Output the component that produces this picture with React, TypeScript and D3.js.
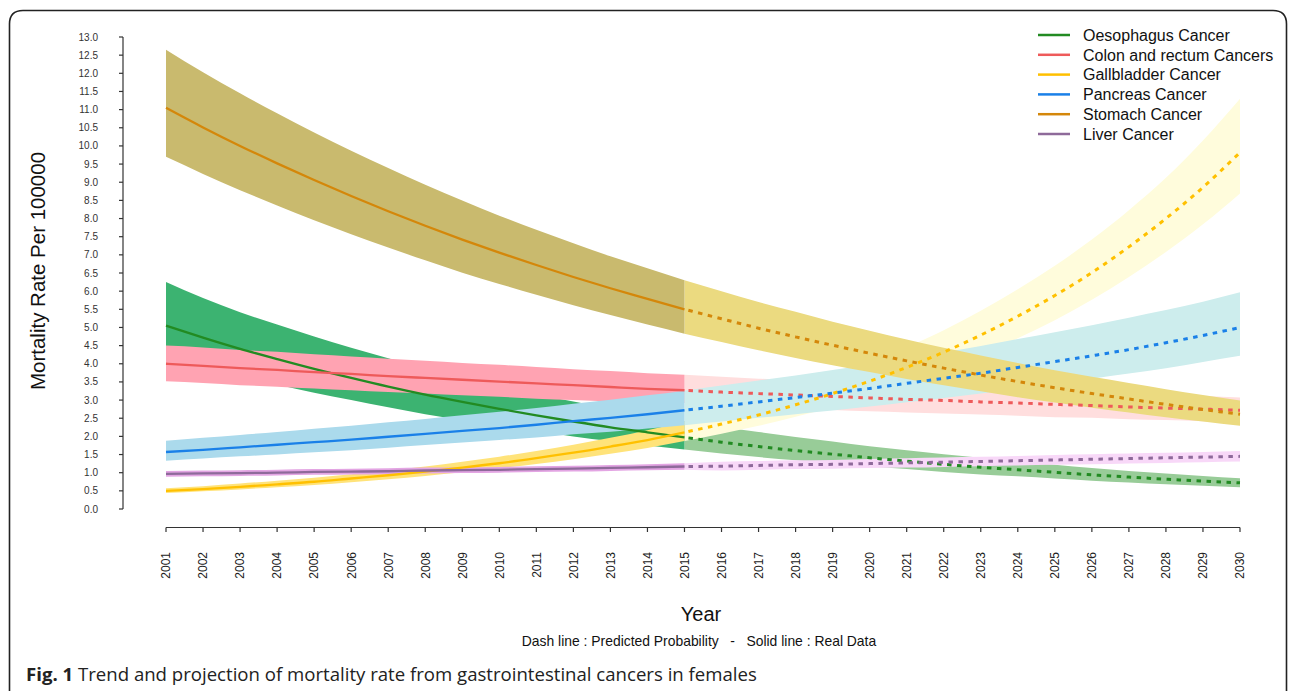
import React from 'react';
import * as d3 from 'd3';

const years = [2001, 2002, 2003, 2004, 2005, 2006, 2007, 2008, 2009, 2010, 2011, 2012, 2013, 2014, 2015,
  2016, 2017, 2018, 2019, 2020, 2021, 2022, 2023, 2024, 2025, 2026, 2027, 2028, 2029, 2030];

const yTicks = [0, 0.5, 1, 1.5, 2, 2.5, 3, 3.5, 4, 4.5, 5, 5.5, 6, 6.5, 7, 7.5, 8, 8.5, 9, 9.5, 10, 10.5, 11, 11.5, 12, 12.5, 13];

const oesophagusMid = [5.05, 4.72, 4.41, 4.13, 3.86, 3.61, 3.37, 3.15, 2.95, 2.76, 2.58, 2.41, 2.25, 2.11, 1.97,
  1.84, 1.72, 1.61, 1.51, 1.41, 1.32, 1.23, 1.15, 1.08, 1.01, 0.94, 0.88, 0.82, 0.77, 0.72];
const oesophagusUp = [6.25, 5.81, 5.42, 5.08, 4.75, 4.44, 4.15, 3.87, 3.63, 3.39, 3.17, 2.96, 2.77, 2.60, 2.42,
  2.26, 2.12, 1.98, 1.86, 1.73, 1.62, 1.51, 1.41, 1.31, 1.22, 1.13, 1.05, 0.98, 0.91, 0.85];
const oesophagusLow = [4.19, 3.92, 3.66, 3.43, 3.20, 3.00, 2.80, 2.61, 2.45, 2.29, 2.14, 2.00, 1.87, 1.75, 1.64,
  1.53, 1.43, 1.34, 1.25, 1.17, 1.10, 1.02, 0.95, 0.90, 0.84, 0.78, 0.73, 0.68, 0.64, 0.60];

const colonMid = [4.00, 3.94, 3.88, 3.83, 3.77, 3.72, 3.66, 3.61, 3.56, 3.51, 3.46, 3.41, 3.36, 3.31, 3.27,
  3.22, 3.18, 3.14, 3.10, 3.06, 3.02, 2.99, 2.95, 2.92, 2.88, 2.85, 2.81, 2.78, 2.75, 2.72];
const colonUp = [4.50, 4.45, 4.38, 4.33, 4.26, 4.20, 4.14, 4.08, 4.02, 3.97, 3.91, 3.85, 3.80, 3.74, 3.70,
  3.64, 3.59, 3.55, 3.50, 3.46, 3.41, 3.38, 3.33, 3.30, 3.25, 3.22, 3.18, 3.14, 3.11, 3.07];
const colonLow = [3.52, 3.47, 3.41, 3.37, 3.32, 3.27, 3.22, 3.18, 3.13, 3.09, 3.04, 3.00, 2.96, 2.91, 2.92,
  2.83, 2.80, 2.76, 2.73, 2.69, 2.66, 2.63, 2.60, 2.57, 2.53, 2.51, 2.47, 2.45, 2.42, 2.39];

const gallbladderMid = [0.50, 0.55, 0.61, 0.68, 0.75, 0.84, 0.93, 1.03, 1.14, 1.26, 1.40, 1.55, 1.72, 1.90, 2.11,
  2.34, 2.59, 2.87, 3.18, 3.52, 3.90, 4.32, 4.79, 5.31, 5.88, 6.51, 7.22, 8.00, 8.86, 9.82];
const gallbladderUp = [0.57, 0.63, 0.70, 0.78, 0.86, 0.96, 1.06, 1.17, 1.30, 1.44, 1.60, 1.77, 1.96, 2.17, 2.41,
  2.67, 2.95, 3.27, 3.63, 4.01, 4.45, 4.92, 5.46, 6.05, 6.70, 7.42, 8.23, 9.12, 10.15, 11.30];
const gallbladderLow = [0.44, 0.49, 0.54, 0.60, 0.66, 0.74, 0.82, 0.91, 1.01, 1.12, 1.24, 1.37, 1.52, 1.68, 1.87,
  2.07, 2.29, 2.54, 2.81, 3.12, 3.45, 3.82, 4.24, 4.70, 5.20, 5.76, 6.39, 7.08, 7.84, 8.69];

const pancreasMid = [1.57, 1.63, 1.70, 1.77, 1.84, 1.91, 1.99, 2.07, 2.15, 2.23, 2.32, 2.42, 2.51, 2.61, 2.72,
  2.83, 2.95, 3.07, 3.19, 3.32, 3.46, 3.60, 3.74, 3.90, 4.06, 4.22, 4.39, 4.58, 4.78, 5.00];
const pancreasUp = [1.88, 1.96, 2.04, 2.12, 2.21, 2.29, 2.39, 2.48, 2.58, 2.68, 2.78, 2.90, 3.01, 3.13, 3.26,
  3.40, 3.54, 3.68, 3.83, 3.98, 4.15, 4.32, 4.49, 4.68, 4.87, 5.06, 5.27, 5.48, 5.71, 5.97];
const pancreasLow = [1.33, 1.39, 1.45, 1.50, 1.56, 1.62, 1.69, 1.76, 1.83, 1.90, 1.97, 2.06, 2.13, 2.22, 2.31,
  2.41, 2.51, 2.61, 2.71, 2.82, 2.94, 3.06, 3.18, 3.32, 3.45, 3.59, 3.73, 3.88, 4.05, 4.22];

const stomachMid = [11.05, 10.51, 10.00, 9.52, 9.06, 8.62, 8.20, 7.80, 7.42, 7.06, 6.72, 6.39, 6.08, 5.79, 5.50,
  5.24, 4.98, 4.74, 4.51, 4.29, 4.08, 3.88, 3.69, 3.51, 3.34, 3.18, 3.03, 2.88, 2.74, 2.61];
const stomachUp = [12.65, 12.03, 11.45, 10.90, 10.37, 9.87, 9.39, 8.93, 8.50, 8.08, 7.69, 7.32, 6.96, 6.63, 6.30,
  6.00, 5.70, 5.43, 5.16, 4.91, 4.67, 4.44, 4.23, 4.02, 3.82, 3.64, 3.47, 3.30, 3.14, 2.99];
const stomachLow = [9.70, 9.23, 8.78, 8.36, 7.95, 7.57, 7.20, 6.85, 6.51, 6.20, 5.90, 5.61, 5.34, 5.08, 4.83,
  4.60, 4.37, 4.16, 3.96, 3.77, 3.58, 3.41, 3.24, 3.08, 2.93, 2.79, 2.66, 2.53, 2.41, 2.29];

const liverMid = [0.97, 0.98, 0.99, 1.00, 1.02, 1.03, 1.04, 1.06, 1.07, 1.08, 1.10, 1.11, 1.13, 1.15, 1.17,
  1.18, 1.20, 1.22, 1.23, 1.25, 1.27, 1.29, 1.31, 1.33, 1.35, 1.37, 1.39, 1.41, 1.43, 1.45];
const liverUp = [1.05, 1.06, 1.07, 1.08, 1.10, 1.11, 1.12, 1.14, 1.15, 1.16, 1.18, 1.19, 1.21, 1.23, 1.26,
  1.30, 1.32, 1.34, 1.35, 1.38, 1.40, 1.42, 1.44, 1.46, 1.49, 1.51, 1.53, 1.55, 1.57, 1.60];
const liverLow = [0.89, 0.90, 0.91, 0.92, 0.94, 0.95, 0.96, 0.98, 0.99, 1.00, 1.02, 1.03, 1.05, 1.07, 1.08,
  1.06, 1.08, 1.10, 1.11, 1.13, 1.14, 1.16, 1.18, 1.20, 1.22, 1.23, 1.25, 1.27, 1.29, 1.31];

const seriesNames = ['Oesophagus Cancer', 'Colon and rectum Cancers', 'Gallbladder Cancer', 'Pancreas Cancer', 'Stomach Cancer', 'Liver Cancer'];
const lineColors = ['#228B22', '#EE5A5A', '#FFC000', '#1A80E8', '#D4870A', '#8E6A9A'];
const bandRealColors = ['#3CB371', '#FFA3B2', '#FFE37A', '#ABDAEC', '#C9BA6E', '#E3A5E3'];
const bandPredColors = ['#98CC98', '#FFDEDE', '#FFFCDC', '#CDEDED', '#EBDA80', '#F8D8F8'];

const mids = [oesophagusMid, colonMid, gallbladderMid, pancreasMid, stomachMid, liverMid];
const ups = [oesophagusUp, colonUp, gallbladderUp, pancreasUp, stomachUp, liverUp];
const lows = [oesophagusLow, colonLow, gallbladderLow, pancreasLow, stomachLow, liverLow];

const splitYear = 2015;

export default function App() {
  const W = 1295, H = 691;
  const x = d3.scaleLinear().domain([2001, 2030]).range([166, 1240]);
  const y = d3.scaleLinear().domain([0, 13]).range([509, 37]);

  const series = seriesNames.map((name, i) => ({
    name,
    color: lineColors[i],
    real: bandRealColors[i],
    pred: bandPredColors[i],
    pts: years.map((yr, j) => ({ yr, m: mids[i][j], u: ups[i][j], l: lows[i][j] })),
  }));

  const area = d3.area<any>()
    .x(d => x(d.yr))
    .y0(d => y(d.l))
    .y1(d => y(d.u))
    .curve(d3.curveMonotoneX);
  const line = d3.line<any>()
    .x(d => x(d.yr))
    .y(d => y(d.m))
    .curve(d3.curveMonotoneX);

  const arial = 'Arial, "Liberation Sans", Helvetica, sans-serif';

  return (
    <svg width={W} height={H} style={{ position: 'absolute', left: 0, top: 0, background: '#fff' }}>
      <rect x={0} y={0} width={W} height={H} fill="#fff" />
      <path d={`M9.5,${H} L9.5,24 Q9.5,10.5 23,10.5 L1273,10.5 Q1286.5,10.5 1286.5,24 L1286.5,${H}`} fill="none" stroke="#222" strokeWidth={1.6} />

      {/* bands */}
      {series.map(s => {
        const real = s.pts.filter(p => p.yr <= splitYear);
        const pred = s.pts.filter(p => p.yr >= splitYear);
        return (
          <g key={'b' + s.name}>
            <path d={area(pred) || ''} fill={s.pred} />
            <path d={area(real) || ''} fill={s.real} />
          </g>
        );
      })}

      {/* lines */}
      {series.map(s => {
        const real = s.pts.filter(p => p.yr <= splitYear);
        const pred = s.pts.filter(p => p.yr >= splitYear);
        return (
          <g key={'l' + s.name}>
            <path d={line(real) || ''} fill="none" stroke={s.color} strokeWidth={2.3} />
            <path d={line(pred) || ''} fill="none" stroke={s.color} strokeWidth={3} strokeDasharray="4.5 5.5" strokeDashoffset={-4} />
          </g>
        );
      })}

      {/* y axis */}
      <line x1={123} x2={123} y1={y(13)} y2={y(0)} stroke="#333" strokeWidth={1.2} />
      {yTicks.map(t => (
        <g key={'yt' + t}>
          <line x1={119} x2={123} y1={y(t)} y2={y(t)} stroke="#333" strokeWidth={1.2} />
          <text x={98} y={y(t)} dy="0.35em" textAnchor="end" fontFamily={arial} fontSize={10} fill="#333">{t.toFixed(1)}</text>
        </g>
      ))}
      <text transform={`translate(45,${271}) rotate(-90)`} textAnchor="middle" fontFamily={arial} fontSize={20.5} fill="#111">Mortality Rate Per 100000</text>

      {/* x axis */}
      <line x1={x(2001)} x2={x(2030)} y1={527.5} y2={527.5} stroke="#333" strokeWidth={1.2} />
      {years.map(yr => (
        <g key={'xt' + yr}>
          <line x1={x(yr)} x2={x(yr)} y1={527.5} y2={532} stroke="#333" strokeWidth={1.2} />
          <text transform={`translate(${x(yr)},552) rotate(-90)`} dy="0.36em" textAnchor="end" fontFamily={arial} fontSize={12} fill="#222">{yr}</text>
        </g>
      ))}
      <text x={701} y={621} textAnchor="middle" fontFamily={arial} fontSize={20} fill="#111">Year</text>
      <text x={699} y={646} textAnchor="middle" fontFamily={arial} fontSize={13.9} fill="#111" style={{ whiteSpace: 'pre' }}>{'Dash line : Predicted Probability   -   Solid line : Real Data'}</text>

      {/* legend */}
      {series.map((s, i) => (
        <g key={'lg' + s.name} transform={`translate(0,${35 + i * 19.8})`}>
          <line x1={1038} x2={1070} y1={0} y2={0} stroke={s.color} strokeWidth={2.5} />
          <text x={1083} y={0} dy="0.36em" fontFamily={arial} fontSize={16} fill="#111">{s.name}</text>
        </g>
      ))}

      {/* caption */}
      <text x={26} y={681} fontFamily={'"Open Sans", "Noto Sans", sans-serif'} fontSize={18.6} fill="#222">
        <tspan fontWeight="bold">Fig. 1</tspan>
        <tspan>{' Trend and projection of mortality rate from gastrointestinal cancers in females'}</tspan>
      </text>
    </svg>
  );
}
